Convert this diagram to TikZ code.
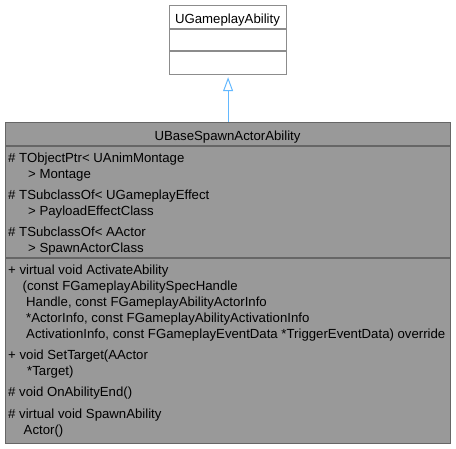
\documentclass[tikz,border=0pt]{standalone}
\usepackage{fontspec}
\setmainfont{Liberation Sans}
\usetikzlibrary{arrows.meta,positioning,calc}
\definecolor{edge}{HTML}{8C8C8C}
\definecolor{darkedge}{HTML}{666666}
\definecolor{nodefill}{HTML}{999999}
\definecolor{inherit}{HTML}{63B8FF}
\newcommand{\memfont}{\fontsize{13.2}{16}\selectfont}

\begin{document}
\begin{tikzpicture}[
  x=1pt, y=-1pt,
  font=\memfont,
  inheritance/.style={-{Triangle[open, length=14pt, width=10pt]}, line width=1pt, draw=inherit, shorten >=2pt},
  classbox/.style={draw=edge, line width=1.2pt, fill=white, inner sep=0pt, anchor=north west},
  focusbox/.style={classbox, draw=darkedge, fill=nodefill},
  member/.style={anchor=base west, inner sep=0pt, text=black},
  classname/.style={anchor=base, inner sep=0pt, text=black}
]
\useasboundingbox (0,0) rectangle (456,448);

% base class
\node[classbox, minimum width=117pt, minimum height=69pt] (ugameplay) at (169,5) {};
\node[classname] (ugameplayname) at (227.5,23.5) {UGameplayAbility};
\draw[edge, line width=1.2pt] (169,29) -- (286,29);
\draw[edge, line width=1.2pt] (169,51) -- (286,51);

% derived class
\node[focusbox, minimum width=445pt, minimum height=321pt] (ubase) at (5,122) {};
\node[classname] (ubasename) at (227.5,140) {UBaseSpawnActorAbility};
\draw[darkedge, line width=1.2pt] (5,146) -- (450,146);
\draw[darkedge, line width=1.2pt] (5,258) -- (450,258);

% attributes
\node[member] (a1) at (8,162.5) {\# TObjectPtr< UAnimMontage};
\node[member] (a1b) at (28,178.8) {> Montage};
\node[member] (a2) at (8,199.8) {\# TSubclassOf< UGameplayEffect};
\node[member] (a2b) at (28,215.5) {> PayloadEffectClass};
\node[member] (a3) at (8,236.5) {\# TSubclassOf< AActor};
\node[member] (a3b) at (28,252) {> SpawnActorClass};

% methods
\node[member] (m1) at (8,274.8) {+ virtual void ActivateAbility};
\node[member] (m1b) at (22.5,290.8) {(const FGameplayAbilitySpecHandle};
\node[member] (m1c) at (26,306.5) {Handle, const FGameplayAbilityActorInfo};
\node[member] (m1d) at (26,322.5) {*ActorInfo, const FGameplayAbilityActivationInfo};
\node[member] (m1e) at (26,338.8) {ActivationInfo, const FGameplayEventData *TriggerEventData) override};
\node[member] (m2) at (8,359) {+ void SetTarget(AActor};
\node[member] (m2b) at (27,375.5) {*Target)};
\node[member] (m3) at (8,396.5) {\# void OnAbilityEnd()};
\node[member] (m4) at (8,418.8) {\# virtual void SpawnAbility};
\node[member] (m4b) at (23.5,434) {Actor()};

\draw[inheritance] (ubase.north) -- (ugameplay.south);

\end{tikzpicture}
\end{document}
